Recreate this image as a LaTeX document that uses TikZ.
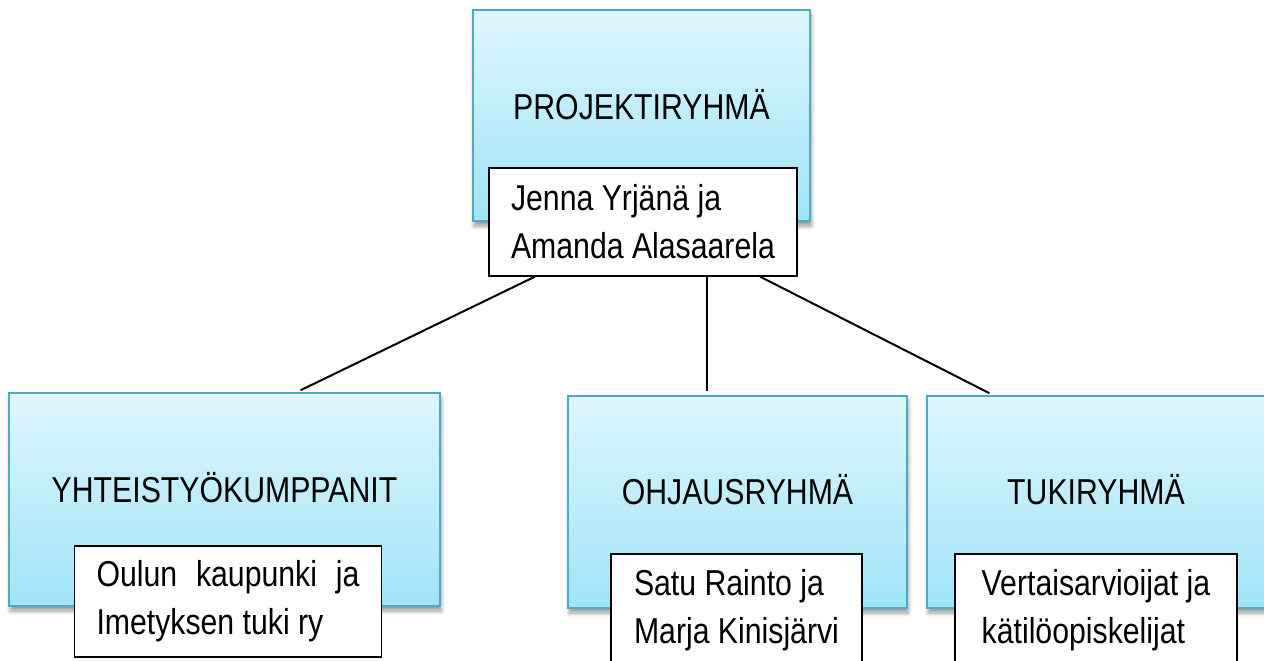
\documentclass[tikz,border=0pt]{standalone}
\usepackage{fontspec}
\setmainfont{Liberation Sans}[FakeStretch=0.84]
\usepackage{tikz}
\usetikzlibrary{shadows.blur}
\definecolor{grouptop}{RGB}{222,246,253}
\definecolor{groupbot}{RGB}{160,228,248}
\definecolor{groupedge}{RGB}{75,172,198}

\begin{document}
\begin{tikzpicture}[x=0.5pt,y=-0.5pt,
  group/.style={draw=groupedge,line width=1pt,top color=grouptop,bottom color=groupbot,
    blur shadow={shadow xshift=0.6pt,shadow yshift=-2.5pt,shadow blur steps=6,shadow opacity=40},
    inner sep=0pt},
  title/.style={font=\fontsize{18pt}{24pt}\selectfont,text height=13pt,text depth=0pt},
  names/.style={draw,fill=white,line width=0.6pt,align=left,inner sep=0pt,
    font=\fontsize{18pt}{24pt}\selectfont}]
\useasboundingbox (0,0) rectangle (1264,660);
% ryhmät
\node[group,minimum width=168.5pt,minimum height=105.5pt,
  label={[title,yshift=4.5pt]center:PROJEKTIRYHMÄ}] (P) at (641.5,115.5) {};
\node[group,minimum width=215.5pt,minimum height=106.5pt,
  label={[title,yshift=5pt]center:YHTEISTYÖKUMPPANIT}] (Y) at (224.5,499.5) {};
\node[group,minimum width=169.5pt,minimum height=106pt,
  label={[title,yshift=5.5pt]center:OHJAUSRYHMÄ}] (O) at (737.5,502) {};
\node[group,minimum width=169pt,minimum height=106pt,
  label={[title,yshift=5.5pt]center:TUKIRYHMÄ}] (T) at (1096,502) {};
% nimet
\node[names,minimum width=154pt,minimum height=54pt] (Pn) at (643,222)
  {Jenna Yrjänä ja\\Amanda Alasaarela};
\node[names,align=justify,text width=131.5pt,inner xsep=11pt,minimum height=55.5pt] (Yn) at (228,601.5)
  {Oulun kaupunki ja\linebreak Imetyksen tuki ry};
\node[names,minimum width=125.5pt,minimum height=56pt] (On) at (736.5,610)
  {Satu Rainto ja\\Marja Kinisjärvi};
\node[names,minimum width=141pt,minimum height=56pt] (Tn) at (1096,610)
  {Vertaisarvioijat ja\\kätilöopiskelijat};
\path[draw,line width=1pt,shorten >=2pt]
([xshift=-54pt]Pn.south) edge ([xshift=36.25pt]Y.north)
([xshift=32pt]Pn.south) edge ([xshift=-15.25pt]O.north)
([xshift=58.5pt]Pn.south) edge ([xshift=-51.5pt]T.north);
\end{tikzpicture}
\end{document}
